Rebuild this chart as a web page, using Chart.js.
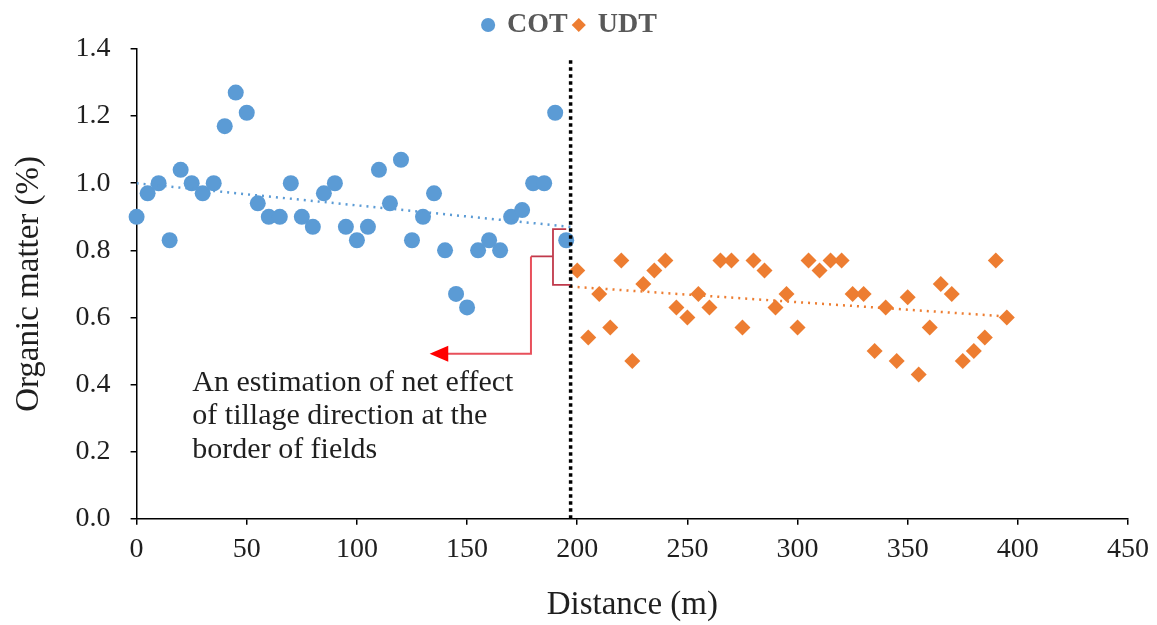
<!DOCTYPE html>
<html>
<head>
<meta charset="utf-8">
<script src="https://cdn.jsdelivr.net/npm/chart.js@4/dist/chart.umd.min.js"></script>
<style>
  html, body { margin: 0; padding: 0; background: #fff; }
  #wrap { width: 1157px; height: 625px; position: relative; }
</style>
</head>
<body>
<div id="wrap"><canvas id="chart"></canvas></div>
<script>
'use strict';

// ── data ────────────────────────────────────────────────────
const cotDistance = [0, 5, 10, 15, 20, 25, 30, 35, 40, 45, 50, 55, 60, 65, 70, 75, 80, 85, 90, 95,
  100, 105, 110, 115, 120, 125, 130, 135, 140, 145, 150, 155, 160, 165, 170, 175, 180, 185, 190, 195];
const cotOM = [0.90, 0.97, 1.00, 0.83, 1.04, 1.00, 0.97, 1.00, 1.17, 1.27, 1.21, 0.94, 0.90, 0.90, 1.00, 0.90, 0.87, 0.97, 1.00, 0.87,
  0.83, 0.87, 1.04, 0.94, 1.07, 0.83, 0.90, 0.97, 0.80, 0.67, 0.63, 0.80, 0.83, 0.80, 0.90, 0.92, 1.00, 1.00, 1.21, 0.83];

const udtDistance = [200, 205, 210, 215, 220, 225, 230, 235, 240, 245, 250, 255, 260, 265, 270, 275, 280, 285, 290, 295,
  300, 305, 310, 315, 320, 325, 330, 335, 340, 345, 350, 355, 360, 365, 370, 375, 380, 385, 390, 395];
const udtOM = [0.74, 0.54, 0.67, 0.57, 0.77, 0.47, 0.70, 0.74, 0.77, 0.63, 0.60, 0.67, 0.63, 0.77, 0.77, 0.57, 0.77, 0.74, 0.63, 0.67,
  0.57, 0.77, 0.74, 0.77, 0.77, 0.67, 0.67, 0.50, 0.63, 0.47, 0.66, 0.43, 0.57, 0.70, 0.67, 0.47, 0.50, 0.54, 0.77, 0.60];

// trend lines (end points as read)
const cotTrendX = [0, 197];
const cotTrendY = [1.00, 0.87];
const udtTrendX = [197, 397];
const udtTrendY = [0.692, 0.602];

// field border
const borderX = [197, 197];
const borderY = [0, 1.37];

// annotation (data units)
const braceX = [189, 195];        // bracket spine / tips
const braceY = [0.863, 0.697];    // top / bottom of bracket
const braceMidY = 0.782;
const leaderX = [179, 141, 133];  // elbow, arrow base, arrow tip
const leaderY = 0.492;
const noteLines = ['An estimation of net effect', 'of tillage direction at the', 'border of fields'];
const noteX = 25.3;
const noteY = [0.380, 0.282, 0.182];

const xMin = 0, xMax = 450, xStep = 50;
const yMin = 0, yMax = 1.4, yStep = 0.2;

const toPts = (xs, ys) => xs.map((x, i) => ({ x, y: ys[i] }));

const SERIF = '"Liberation Serif", "Times New Roman", serif';
const BLUE = '#5B9BD5';
const ORANGE = '#ED7D31';
const INK = '#1f1f1f';

// ── annotation plugin ───────────────────────────────────────
const notePlugin = {
  id: 'note',
  afterDatasetsDraw(chart) {
    const { ctx, scales: { x, y } } = chart;
    const px = v => x.getPixelForValue(v);
    const py = v => y.getPixelForValue(v);
    ctx.save();

    // bracket
    ctx.strokeStyle = '#C0394B';
    ctx.lineWidth = 1.8;
    ctx.beginPath();
    ctx.moveTo(px(braceX[1]), py(braceY[0]));
    ctx.lineTo(px(braceX[0]), py(braceY[0]));
    ctx.lineTo(px(braceX[0]), py(braceY[1]));
    ctx.lineTo(px(braceX[1]) + 4, py(braceY[1]));
    ctx.moveTo(px(braceX[0]), py(braceMidY));
    ctx.lineTo(px(leaderX[0]), py(braceMidY));
    ctx.stroke();

    // leader to arrow
    ctx.strokeStyle = '#E8505B';
    ctx.lineWidth = 2;
    ctx.beginPath();
    ctx.moveTo(px(leaderX[0]), py(braceMidY));
    ctx.lineTo(px(leaderX[0]), py(leaderY));
    ctx.lineTo(px(leaderX[1]), py(leaderY));
    ctx.stroke();

    // arrow head
    ctx.fillStyle = '#FF0000';
    ctx.beginPath();
    ctx.moveTo(px(leaderX[2]), py(leaderY));
    ctx.lineTo(px(leaderX[1]) + 1, py(leaderY) - 8);
    ctx.lineTo(px(leaderX[1]) + 1, py(leaderY) + 8);
    ctx.closePath();
    ctx.fill();

    // note text
    ctx.fillStyle = INK;
    ctx.font = '30px ' + SERIF;
    ctx.textBaseline = 'alphabetic';
    ctx.textAlign = 'left';
    noteLines.forEach((t, i) => ctx.fillText(t, px(noteX), py(noteY[i])));

    ctx.restore();
  },
};

// ── chart ───────────────────────────────────────────────────
new Chart(document.getElementById('chart').getContext('2d'), {
  type: 'scatter',
  data: {
    datasets: [
      {
        label: 'COT',
        data: toPts(cotDistance, cotOM),
        backgroundColor: BLUE,
        borderWidth: 0,
        pointStyle: 'circle',
        pointRadius: 8,
        clip: false,
        order: 2,
      },
      {
        label: 'UDT',
        data: toPts(udtDistance, udtOM),
        backgroundColor: ORANGE,
        borderWidth: 0,
        pointStyle: 'rectRot',
        pointRadius: 8,
        clip: false,
        order: 2,
      },
      {
        label: 'COT trend',
        data: toPts(cotTrendX, cotTrendY),
        showLine: true,
        borderColor: BLUE,
        borderWidth: 2.5,
        borderDash: [2, 5],
        pointRadius: 0,
        order: 1,
      },
      {
        label: 'UDT trend',
        data: toPts(udtTrendX, udtTrendY),
        showLine: true,
        borderColor: ORANGE,
        borderWidth: 2.5,
        borderDash: [2, 5],
        pointRadius: 0,
        order: 1,
      },
      {
        label: 'border',
        data: toPts(borderX, borderY),
        showLine: true,
        borderColor: '#000',
        borderWidth: 3.5,
        borderDash: [3.5, 3.5],
        pointRadius: 0,
        clip: false,
        order: 0,
      },
    ],
  },
  options: {
    responsive: true,
    maintainAspectRatio: false,
    animation: false,
    layout: { padding: { top: 5, right: 27, bottom: 0, left: 10 } },
    plugins: {
      legend: {
        position: 'top',
        labels: {
          filter: item => item.datasetIndex < 2,
          usePointStyle: true,
          boxWidth: 10,
          boxHeight: 10,
          padding: 6,
          color: '#595959',
          font: { family: SERIF, size: 28, weight: 'bold' },
        },
      },
      tooltip: { enabled: false },
    },
    scales: {
      x: {
        type: 'linear',
        min: xMin,
        max: xMax,
        border: { color: '#000', width: 1.5 },
        grid: { display: true, drawOnChartArea: false, drawTicks: true, tickLength: 6, color: '#000', lineWidth: 1.5 },
        ticks: { stepSize: xStep, color: INK, padding: 8, font: { family: SERIF, size: 28 } },
        title: { display: true, text: 'Distance (m)', color: INK, padding: { top: 11, bottom: 0 }, font: { family: SERIF, size: 33 } },
      },
      y: {
        type: 'linear',
        min: yMin,
        max: yMax,
        border: { color: '#000', width: 1.5 },
        grid: { display: true, drawOnChartArea: false, drawTicks: true, tickLength: 6, color: '#000', lineWidth: 1.5 },
        ticks: { stepSize: yStep, color: INK, padding: 20, callback: v => v.toFixed(1), font: { family: SERIF, size: 28 } },
        title: { display: true, text: 'Organic matter (%)', color: INK, padding: { top: 0, bottom: 6 }, font: { family: SERIF, size: 33 } },
      },
    },
  },
  plugins: [notePlugin],
});
</script>
</body>
</html>
